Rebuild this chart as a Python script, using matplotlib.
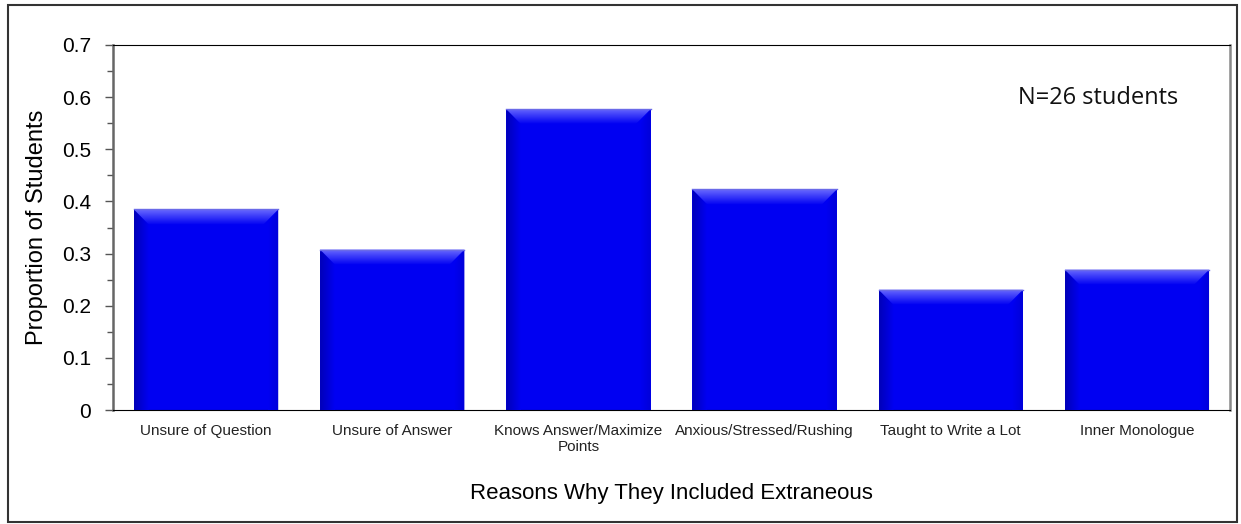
import numpy as np
import matplotlib
matplotlib.use('Agg')
from matplotlib import pyplot as plt
from matplotlib.patches import Polygon, Rectangle

plt.rcParams['font.family'] = ['Liberation Sans', 'DejaVu Sans']

reasons = ['Unsure of Question', 'Unsure of Answer', 'Knows Answer/Maximize\nPoints',
           'Anxious/Stressed/Rushing', 'Taught to Write a Lot', 'Inner Monologue']
counts = [10, 8, 15, 11, 6, 7]
n_students = 26
proportions = [c / n_students for c in counts]

fig = plt.figure(figsize=(12.41, 5.24), dpi=100)
ax = fig.add_axes([113 / 1241, 1 - 410 / 524, 1117 / 1241, 365 / 524])

# outer frame around the whole chart
fig.patches.append(Rectangle((8 / 1241, 2 / 524), 1229 / 1241, 517 / 524,
                             transform=fig.transFigure, fill=False,
                             edgecolor='#333333', linewidth=1.5))

x = list(range(len(reasons)))
bars = ax.bar(x, proportions, width=0.775, color='#0000f2', edgecolor='none', zorder=2)


def shade(ax, poly, c0, c1, horizontal, extent):
    """Fill a polygon with a linear gradient from c0 to c1."""
    t = np.linspace(0, 1, 64)
    c0, c1 = np.array(c0), np.array(c1)
    grad = c0[None, :] + (c1 - c0)[None, :] * t[:, None]
    img = grad[None, :, :] if horizontal else grad[:, None, :]
    patch = Polygon(poly, closed=True, facecolor='none', edgecolor='none')
    ax.add_patch(patch)
    im = ax.imshow(img, extent=extent, origin='upper' if not horizontal else 'lower',
                   aspect='auto', interpolation='bilinear', zorder=3)
    im.set_clip_path(patch)


# bevelled look: lighter top face, shaded sides
bh = 0.029
bw = 0.08
light = (0.42, 0.42, 1.0)
base = (0.0, 0.0, 0.95)
dark = (0.0, 0.0, 0.72)
for b in bars:
    x0, w, h = b.get_x(), b.get_width(), b.get_height()
    x1 = x0 + w
    shade(ax, [(x0, 0), (x0, h), (x0 + bw, h - bh), (x0 + bw, 0)],
          dark, base, True, (x0, x0 + bw, 0, h))
    shade(ax, [(x1, 0), (x1, h), (x1 - bw * 0.7, h - bh), (x1 - bw * 0.7, 0)],
          base, (0.0, 0.0, 0.85), True, (x1 - bw * 0.7, x1, 0, h))
    shade(ax, [(x0, h), (x1, h), (x1 - bw, h - bh), (x0 + bw, h - bh)],
          light, base, False, (x0, x1, h - bh, h))
    ax.plot([x0, x1], [h, h], color='#6a6ae8', linewidth=1, zorder=4)

ax.set_xlim(-0.5, len(reasons) - 0.5)
ax.set_ylim(0, 0.7)
ax.set_yticks([0, 0.1, 0.2, 0.3, 0.4, 0.5, 0.6, 0.7])
ax.set_yticklabels(['0', '0.1', '0.2', '0.3', '0.4', '0.5', '0.6', '0.7'])
ax.set_yticks([0.05, 0.15, 0.25, 0.35, 0.45, 0.55, 0.65], minor=True)
ax.tick_params(axis='y', which='major', direction='out', length=6, width=1,
               color='#555555', labelsize=15, pad=10)
ax.tick_params(axis='y', which='minor', direction='out', length=4, width=1, color='#555555')
ax.set_xticks(x)
ax.set_xticklabels(reasons, fontsize=11, color='#222222')
ax.tick_params(axis='x', length=0, pad=10)

ax.spines['left'].set_color('#666666')
ax.spines['left'].set_linewidth(1.8)
ax.spines['right'].set_color('#888888')
ax.spines['right'].set_linewidth(1.8)
ax.spines['bottom'].set_color('black')
ax.spines['top'].set_color('black')

ax.set_ylabel('Proportion of Students', fontsize=17)
ax.yaxis.set_label_coords(-0.058, 0.5)
ax.set_xlabel('Reasons Why They Included Extraneous', fontsize=16)
ax.xaxis.set_label_coords(0.5, -0.2)

ax.text(0.81, 0.855, 'N=%d students' % n_students, transform=ax.transAxes,
        fontsize=17, family=['Open Sans', 'DejaVu Sans'], color='#111111', va='center')

fig.savefig('out.png', dpi=100)
